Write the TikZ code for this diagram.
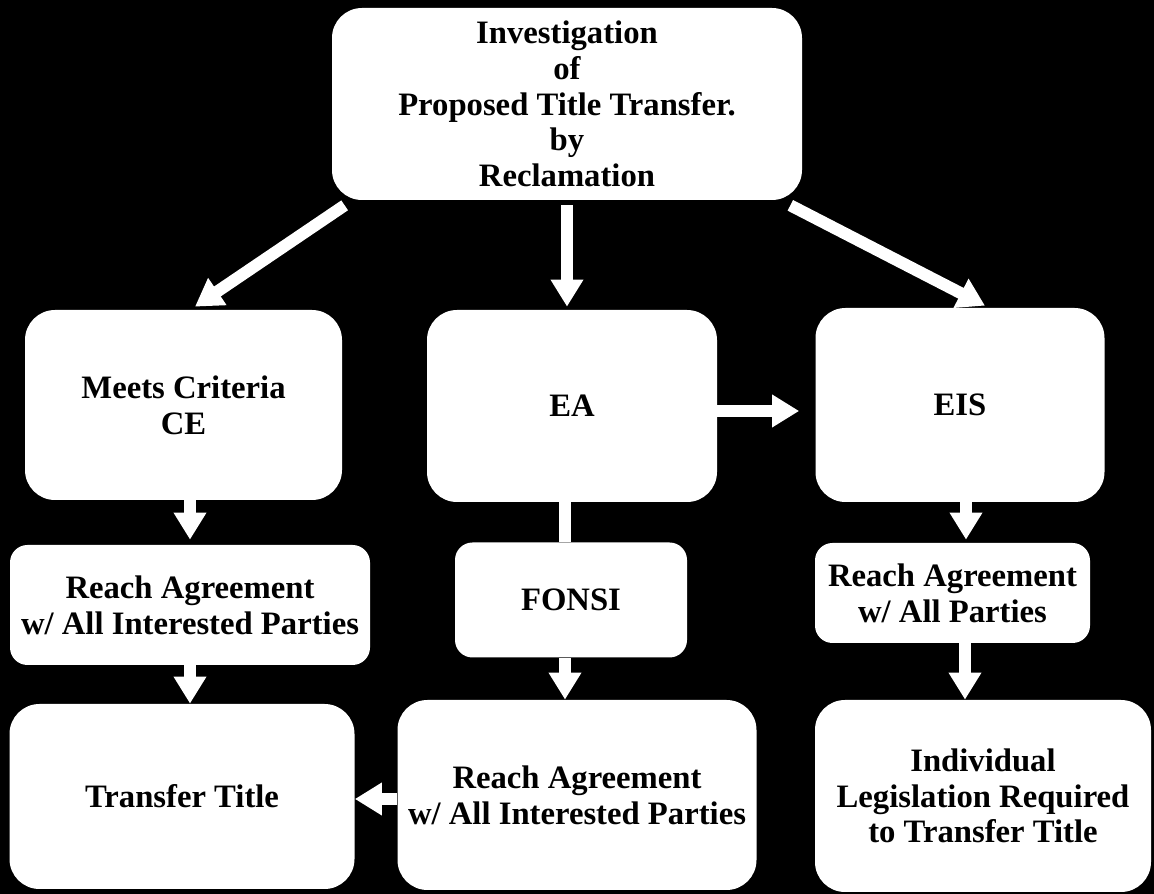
\documentclass[tikz,border=0pt]{standalone}
\usepackage{fontspec}
\setmainfont{Liberation Serif}
\usetikzlibrary{arrows.meta,positioning}

\begin{document}
\begin{tikzpicture}[
  box/.style={fill=white, rounded corners=0.6cm, align=center, inner sep=0pt,
    font=\bfseries\fontsize{18.6}{20.3}\selectfont},
  smallbox/.style={box, rounded corners=0.35cm},
  arr/.style={draw=white, line width=6.8pt, -{Triangle[width=0.62cm,length=0.54cm]}},
  link/.style={draw=white, line width=6.8pt}
]
\fill[black] (0,0) rectangle (23.08,-17.88);
\useasboundingbox (0,0) rectangle (23.08,-17.88);

\node[box, minimum width=9.4cm, minimum height=3.84cm] (top) at (11.34,-2.08)
  {Investigation\\of\\Proposed Title Transfer.\\by\\Reclamation};
\node[box, minimum width=6.34cm, minimum height=3.8cm] (ce) at (3.67,-8.1) {Meets Criteria\\CE};
\node[box, minimum width=5.8cm, minimum height=3.84cm] (ea) at (11.44,-8.12) {EA};
\node[box, minimum width=5.78cm, minimum height=3.88cm] (eis) at (19.2,-8.1) {EIS};
\node[smallbox, minimum width=7.2cm, minimum height=2.4cm] (ra1) at (3.8,-12.1)
  {Reach Agreement\\w/ All Interested Parties};
\node[smallbox, minimum width=4.64cm, minimum height=2.3cm] (fonsi) at (11.42,-12.0) {FONSI};
\node[smallbox, minimum width=5.5cm, minimum height=2.0cm] (ra2) at (19.05,-11.86)
  {Reach Agreement\\w/ All Parties};
\node[box, minimum width=6.9cm, minimum height=3.7cm] (transfer) at (3.64,-15.93) {Transfer Title};
\node[box, minimum width=7.18cm, minimum height=3.8cm] (ra3) at (11.54,-15.9)
  {Reach Agreement\\w/ All Interested Parties};
\node[box, minimum width=6.72cm, minimum height=3.84cm] (indiv) at (19.66,-15.92)
  {Individual\\Legislation Required\\to Transfer Title};

% from the top box
\draw[arr] ([xshift=0.26cm,yshift=-0.1cm]top.south west) -- ([xshift=0.23cm,yshift=0.06cm]ce.north);
\draw[arr] ([yshift=-0.1cm]top.south) -- ([yshift=0.06cm]top.south |- ea.north);
\draw[arr] ([xshift=-0.24cm,yshift=-0.1cm]top.south east) -- ([xshift=0.5cm,yshift=0.04cm]eis.north);
\draw[arr, shorten >=0.32cm] ([yshift=-0.1cm]ea.east) -- ([yshift=-0.1cm]ea.east -| eis.west);

% columns
\draw[arr] (ce.south -| ra1.north) -- ([yshift=0.1cm]ra1.north);
\draw[arr] (ra1.south) -- (ra1.south |- transfer.north);
\draw[link] ([xshift=-0.12cm]fonsi.north |- ea.south) -- ([xshift=-0.12cm]fonsi.north);
\draw[arr] ([xshift=-0.12cm]fonsi.south) -- ([xshift=-0.12cm]fonsi.south |- ra3.north);
\draw[arr] ([xshift=0.12cm]eis.south) -- ([xshift=0.12cm,yshift=0.06cm]eis.south |- ra2.north);
\draw[arr] ([xshift=0.25cm]ra2.south) -- ([xshift=0.25cm]ra2.south |- indiv.north);
\draw[arr] ([yshift=-0.08cm]ra3.west) -- ([yshift=-0.08cm]ra3.west -| transfer.east);
\end{tikzpicture}
\end{document}
